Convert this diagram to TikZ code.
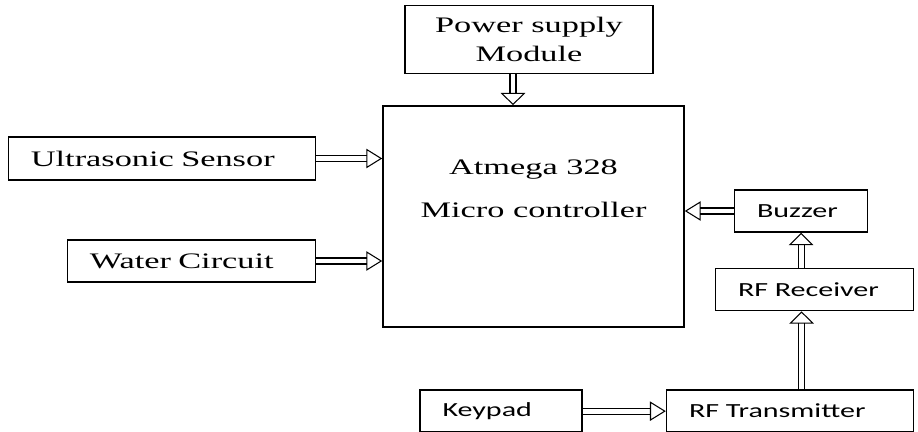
\documentclass[tikz,border=0pt]{standalone}
\usepackage{fontspec}
\setmainfont{Liberation Serif}
\newfontfamily\blkserif{Liberation Serif}[FakeStretch=1.55]
\newfontfamily\blksans{Carlito}[FakeStretch=1.5]
\usetikzlibrary{arrows.meta,positioning}
\tikzset{
  sblk/.style   ={draw, line width=0.9pt, align=left, inner xsep=4.5mm, inner ysep=0pt, minimum height=8.5mm, font=\blkserif\fontsize{12.6}{15}\selectfont},
  kblk/.style   ={draw, line width=0.9pt, align=left, inner xsep=4.5mm, inner ysep=0pt, minimum height=8.4mm, font=\blksans\fontsize{11.4}{14}\selectfont},
  pwrblk/.style ={draw, line width=0.9pt, align=center, minimum width=49.6mm, minimum height=13.6mm, font=\blkserif\fontsize{12.6}{17}\selectfont},
  mcublk/.style ={draw, line width=0.9pt, minimum width=60.2mm, minimum height=44.2mm},
  mcutxt/.style ={align=center, inner sep=0pt, font=\blkserif\fontsize{12.6}{24.4}\selectfont},
  harr/.style   ={double, double distance=2.8pt, line width=0.6pt, -{Triangle[open, length=9pt, width=11pt]}},
  varr/.style   ={double, double distance=2.8pt, line width=0.6pt, -{Triangle[open, length=7pt, width=14pt]}},
}

\begin{document}
\begin{tikzpicture}[node distance=7mm and 13.2mm]
  \useasboundingbox (-106.7mm,-43.1mm) rectangle (76.9mm,43.3mm);
  \node[mcublk] (mcu) at (0,0) {};
  \node[mcutxt, below=10.8mm of mcu.north] (mcutext) {Atmega 328\\Micro controller};
  \node[pwrblk, above=6.2mm of mcu, xshift=-0.9mm] (pwr) {Power supply\\Module};

  \node[sblk, text width=52.4mm, left=of mcu, yshift=11.6mm] (us) {Ultrasonic Sensor};
  \node[sblk, text width=40.6mm, left=of mcu, yshift=-8.9mm] (wc) {Water Circuit};

  \node[kblk, text width=17.6mm, right=9.8mm of mcu, yshift=1.1mm] (bz) {Buzzer};
  \node[kblk, text width=30.6mm, below=7mm of bz, xshift=2.7mm] (rx) {RF Receiver};
  \node[kblk, text width=40.4mm, below=15.6mm of rx, xshift=-4.9mm] (tx) {RF Transmitter};
  \node[kblk, text width=23.4mm, left=16.6mm of tx] (kp) {Keypad};

  \draw[varr] ([xshift=-3.2mm]pwr.south) -- ([xshift=-3.2mm]pwr.south |- mcu.north);
  \draw[harr] (us.east) -- (us.east -| mcu.west);
  \draw[harr] (wc.east) -- (wc.east -| mcu.west);
  \draw[harr] (bz.west) -- (bz.west -| mcu.east);
  \draw[varr] (bz.south |- rx.north) -- (bz.south);
  \draw[varr] ([xshift=2.3mm]tx.north) -- ([xshift=2.3mm]tx.north |- rx.south);
  \draw[harr] (kp.east) -- (tx.west);
\end{tikzpicture}
\end{document}
